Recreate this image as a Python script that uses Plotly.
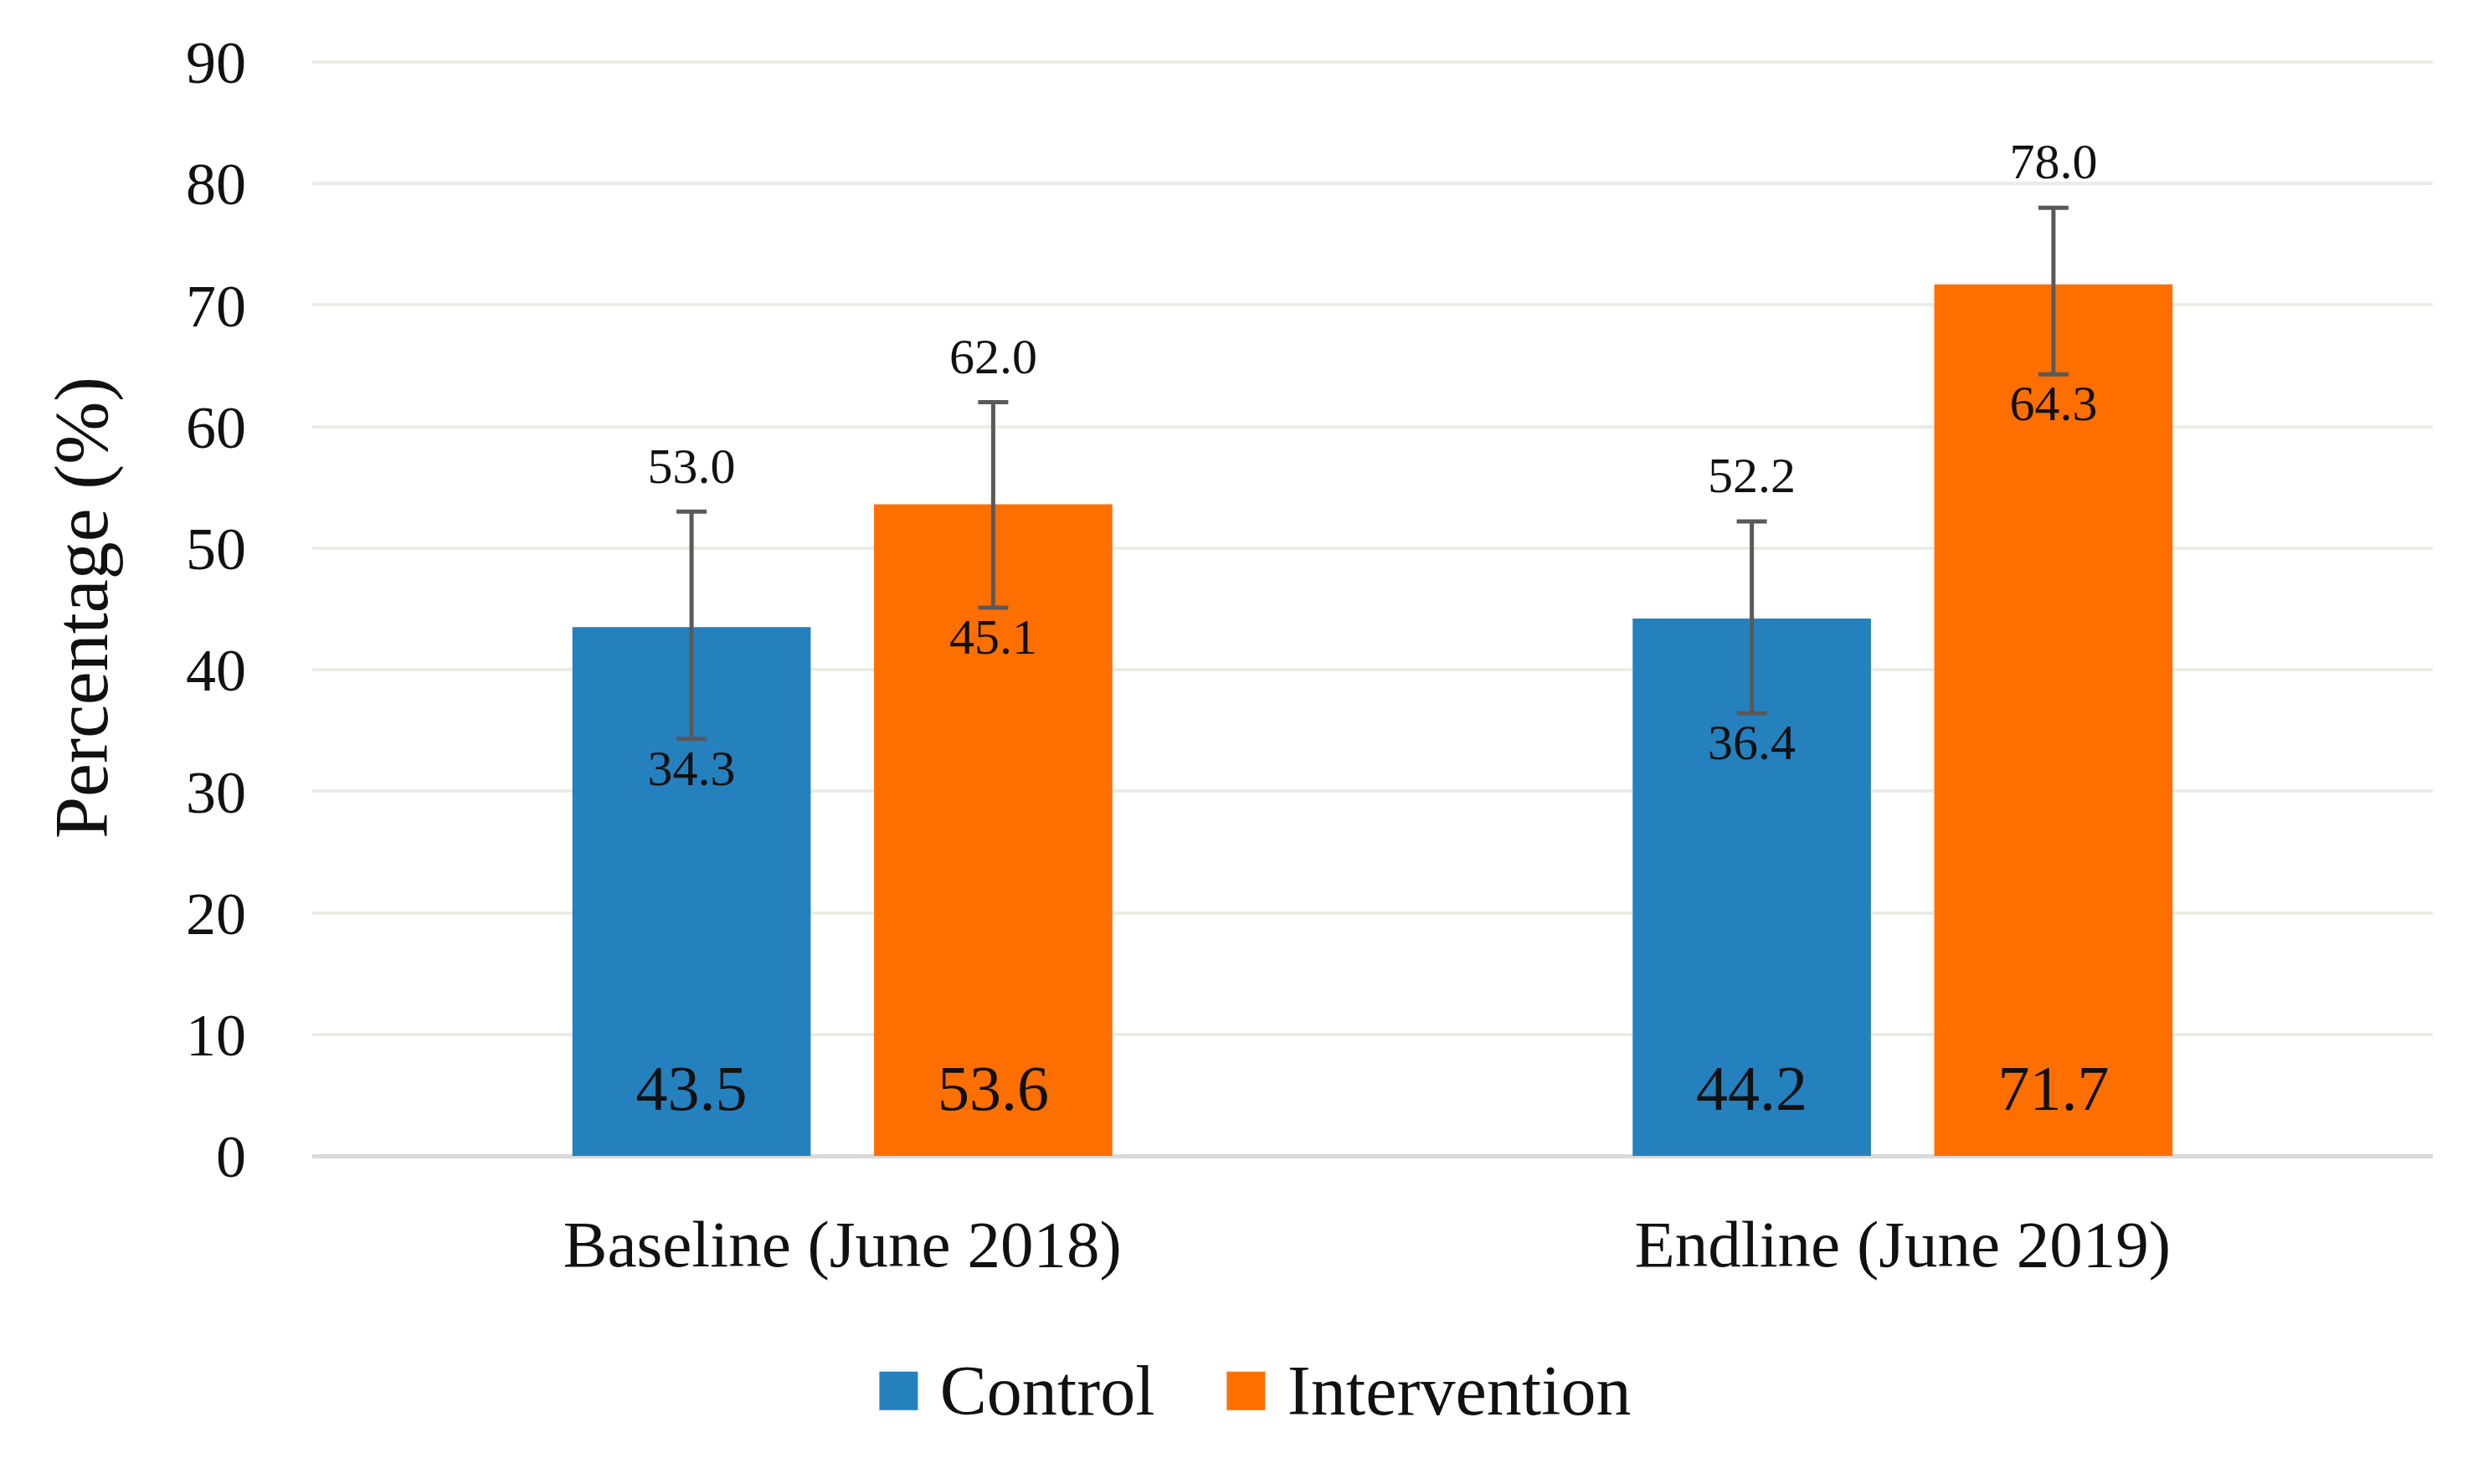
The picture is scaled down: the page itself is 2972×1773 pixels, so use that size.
import plotly.graph_objects as go

categories = ["Baseline (June 2018)", "Endline (June 2019)"]
series_names = ["Control", "Intervention"]
control_mean = [43.5, 44.2]
control_upper = [53.0, 52.2]
control_lower = [34.3, 36.4]
intervention_mean = [53.6, 71.7]
intervention_upper = [62.0, 78.0]
intervention_lower = [45.1, 64.3]
y_ticks = [0, 10, 20, 30, 40, 50, 60, 70, 80, 90]

colors = {"Control": "#2580BE", "Intervention": "#FF6F00"}
FONT = "Liberation Serif"
MAIN_LABEL_Y = 5.1
BARGAP = 0.431
LEGEND_PAD = {"Control": "\u00a0\u2006", "Intervention": ""}

series = {
    "Control": (control_mean, control_upper, control_lower),
    "Intervention": (intervention_mean, intervention_upper, intervention_lower),
}

fig = go.Figure()
for name in series_names:
    mean, up, lo = series[name]
    fig.add_trace(go.Bar(
        x=categories, y=mean, name=name, offsetgroup=name, showlegend=False,
        marker=dict(color=colors[name], line=dict(width=0)),
        error_y=dict(type="data", symmetric=False,
                     array=[u - m for u, m in zip(up, mean)],
                     arrayminus=[m - l for m, l in zip(mean, lo)],
                     color="#595959", thickness=5, width=18),
        hoverinfo="skip",
    ))

for name in series_names:
    mean, up, lo = series[name]
    fig.add_trace(go.Scatter(
        x=categories, y=up, mode="markers+text", offsetgroup=name,
        text=[f"{v:.1f}" for v in up], textposition="top center",
        marker=dict(size=30, color="rgba(0,0,0,0)"),
        textfont=dict(family=FONT, size=60, color="#111111"),
        showlegend=False, hoverinfo="skip",
    ))
    fig.add_trace(go.Scatter(
        x=categories, y=lo, mode="markers+text", offsetgroup=name,
        text=[f"{v:.1f}" for v in lo], textposition="bottom center",
        marker=dict(size=14, color="rgba(0,0,0,0)"),
        textfont=dict(family=FONT, size=60, color="#111111"),
        showlegend=False, hoverinfo="skip",
    ))
    fig.add_trace(go.Scatter(
        x=categories, y=[MAIN_LABEL_Y] * len(categories), mode="text", offsetgroup=name,
        text=[f"{v:.1f}" for v in mean], textposition="middle center",
        textfont=dict(family=FONT, size=76, color="#111111"),
        showlegend=False, hoverinfo="skip",
    ))

# legend entries (large colored squares as legend text glyphs)
for name in series_names:
    fig.add_trace(go.Scatter(
        x=[None], y=[None], mode="lines", line=dict(width=0, color=colors[name]),
        name=f"<span style='color:{colors[name]};font-size:95px'>■</span> {name}{LEGEND_PAD[name]}",
        showlegend=True, hoverinfo="skip",
    ))

fig.update_layout(
    width=2972, height=1773,
    paper_bgcolor="white", plot_bgcolor="white",
    barmode="group", bargap=BARGAP, bargroupgap=0.21,
    scattermode="group", scattergap=BARGAP,
    margin=dict(l=365, r=74, t=63, b=400, autoexpand=False),
    font=dict(family=FONT, color="#111111"),
    showlegend=True,
    legend=dict(orientation="h", x=0.4366, xanchor="center", y=-0.211, yanchor="middle",
                font=dict(family=FONT, size=84, color="#111111"),
                itemwidth=30, traceorder="normal", bgcolor="rgba(0,0,0,0)"),
    xaxis=dict(type="category", showgrid=False, showline=False, ticks="",
               tickfont=dict(family=FONT, size=79, color="#111111"),
               ticklabelstandoff=52),
    yaxis=dict(range=[0, 90.2], tickvals=y_ticks, showgrid=True, gridcolor="#ECECE6", gridwidth=4,
               zeroline=True, zerolinecolor="#D9D9D9", zerolinewidth=5, showline=False,
               tickfont=dict(family=FONT, size=72, color="#111111"), ticks="",
               ticklabelstandoff=78,
               title=dict(text="Percentage (%)", font=dict(family=FONT, size=90, color="#111111"),
                          standoff=63)),
    hovermode=False,
)

fig.write_html("out.html")
